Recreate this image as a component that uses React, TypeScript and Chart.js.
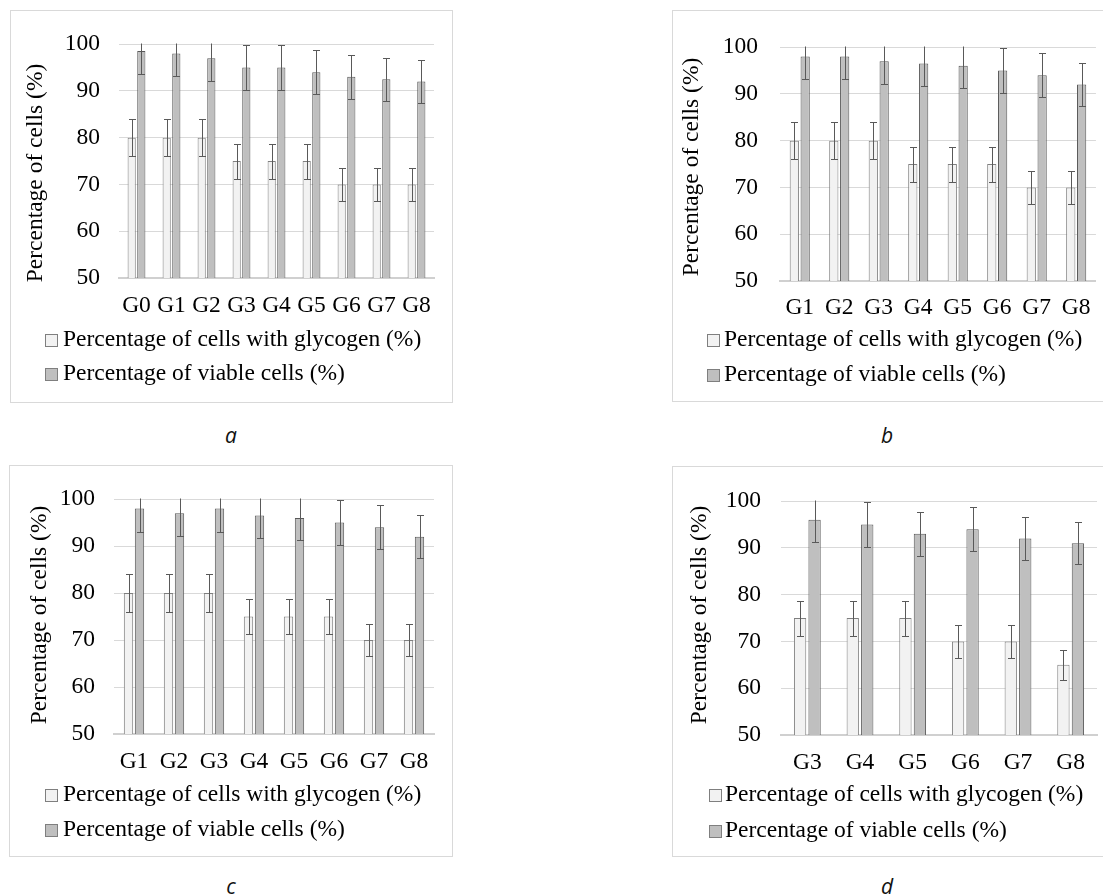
import React, { useEffect, useRef } from "react";
import { Chart, registerables } from "chart.js";

Chart.register(...registerables);

const FONT = "'Liberation Serif', 'Times New Roman', serif";
const FONT_SIZE = 23.5;

// ---------------- data ----------------
const seriesNames = ["Percentage of cells with glycogen (%)", "Percentage of viable cells (%)"];
const yTitle = "Percentage of cells (%)";
const yTicks = [50, 60, 70, 80, 90, 100];

const categoriesA = ["G0", "G1", "G2", "G3", "G4", "G5", "G6", "G7", "G8"];
const glycogenA = [80, 80, 80, 75, 75, 75, 70, 70, 70];
const glycogenErrA = [4, 4, 4, 3.75, 3.75, 3.75, 3.5, 3.5, 3.5];
const viableA = [98.5, 98, 97, 95, 95, 94, 93, 92.5, 92];
const viableErrA = [4.9, 4.9, 4.85, 4.75, 4.75, 4.7, 4.65, 4.6, 4.6];

const categoriesB = ["G1", "G2", "G3", "G4", "G5", "G6", "G7", "G8"];
const glycogenB = [80, 80, 80, 75, 75, 75, 70, 70];
const glycogenErrB = [4, 4, 4, 3.75, 3.75, 3.75, 3.5, 3.5];
const viableB = [98, 98, 97, 96.5, 96, 95, 94, 92];
const viableErrB = [4.9, 4.9, 4.85, 4.8, 4.8, 4.75, 4.7, 4.6];

const categoriesC = ["G1", "G2", "G3", "G4", "G5", "G6", "G7", "G8"];
const glycogenC = [80, 80, 80, 75, 75, 75, 70, 70];
const glycogenErrC = [4, 4, 4, 3.75, 3.75, 3.75, 3.5, 3.5];
const viableC = [98, 97, 98, 96.5, 96, 95, 94, 92];
const viableErrC = [4.9, 4.85, 4.9, 4.8, 4.8, 4.75, 4.7, 4.6];

const categoriesD = ["G3", "G4", "G5", "G6", "G7", "G8"];
const glycogenD = [75, 75, 75, 70, 70, 65];
const glycogenErrD = [3.75, 3.75, 3.75, 3.5, 3.5, 3.25];
const viableD = [96, 95, 93, 94, 92, 91];
const viableErrD = [4.8, 4.75, 4.65, 4.7, 4.6, 4.55];

// ---------------- layout ----------------
type Panel = {
  caption: string;
  labels: string[];
  glycogen: number[];
  glycogenErr: number[];
  viable: number[];
  viableErr: number[];
  box: { left: number; top: number; width: number; height: number };
  padTop: number;
  padRight: number;
  yWidth: number;
  xHeight: number;
  yTickPad: number;
  xTickPad: number;
  legendSquare: number;
  legendText: number;
  legendRows: number[];
  titleX: number;
  titleY: number;
  capX: number;
  capY: number;
};

const panels: Panel[] = [
  {
    caption: "a", labels: categoriesA, glycogen: glycogenA, glycogenErr: glycogenErrA, viable: viableA, viableErr: viableErrA,
    box: { left: 10, top: 10, width: 443, height: 393 },
    padTop: 20, padRight: 18, yWidth: 108, xHeight: 124, yTickPad: 19, xTickPad: 14,
    legendSquare: 34, legendText: 52, legendRows: [329, 363], titleX: 25, titleY: 162, capX: 231, capY: 435,
  },
  {
    caption: "b", labels: categoriesB, glycogen: glycogenB, glycogenErr: glycogenErrB, viable: viableB, viableErr: viableErrB,
    box: { left: 672, top: 10, width: 433, height: 392 },
    padTop: 20, padRight: 7, yWidth: 107, xHeight: 120, yTickPad: 22, xTickPad: 13,
    legendSquare: 34, legendText: 51, legendRows: [329, 364], titleX: 19, titleY: 156, capX: 887, capY: 435,
  },
  {
    caption: "c", labels: categoriesC, glycogen: glycogenC, glycogenErr: glycogenErrC, viable: viableC, viableErr: viableErrC,
    box: { left: 9, top: 465, width: 444, height: 392 },
    padTop: 19, padRight: 18, yWidth: 104, xHeight: 122, yTickPad: 19, xTickPad: 14,
    legendSquare: 35, legendText: 53, legendRows: [329, 364], titleX: 30, titleY: 149, capX: 231, capY: 886,
  },
  {
    caption: "d", labels: categoriesD, glycogen: glycogenD, glycogenErr: glycogenErrD, viable: viableD, viableErr: viableErrD,
    box: { left: 672, top: 466, width: 433, height: 391 },
    padTop: 19, padRight: 7, yWidth: 108, xHeight: 121, yTickPad: 20, xTickPad: 14,
    legendSquare: 36, legendText: 52, legendRows: [328, 364], titleX: 27, titleY: 148, capX: 887, capY: 886,
  },
];

function ChartPanel({ p }: { p: Panel }) {
  const ref = useRef<HTMLCanvasElement | null>(null);
  const cw = p.box.width - 2;
  const ch = p.box.height - 2;

  useEffect(() => {
    const canvas = ref.current;
    if (!canvas) return;
    const errs = [p.glycogenErr, p.viableErr];
    let chart: any = null;
    let cancelled = false;

    const errorBars = {
      id: "errorBars",
      afterDatasetsDraw(c: any) {
        const { ctx, chartArea } = c;
        const ys = c.scales.y;
        ctx.save();
        ctx.beginPath();
        ctx.rect(chartArea.left, chartArea.top - 0.5, chartArea.right - chartArea.left, chartArea.bottom - chartArea.top + 1);
        ctx.clip();
        ctx.strokeStyle = "#595959";
        ctx.lineWidth = 1;
        c.data.datasets.forEach((ds: any, i: number) => {
          const meta = c.getDatasetMeta(i);
          meta.data.forEach((el: any, j: number) => {
            const v = ds.data[j] as number;
            const e = errs[i][j];
            const x = Math.round(el.x) + 0.5;
            const yt = Math.round(ys.getPixelForValue(v + e)) + 0.5;
            const yb = Math.round(ys.getPixelForValue(v - e)) + 0.5;
            ctx.beginPath();
            ctx.moveTo(x, yt);
            ctx.lineTo(x, yb);
            ctx.moveTo(x - 3.5, yt);
            ctx.lineTo(x + 3.5, yt);
            ctx.moveTo(x - 3.5, yb);
            ctx.lineTo(x + 3.5, yb);
            ctx.stroke();
          });
        });
        ctx.restore();
      },
    };

    const deco = {
      id: "deco",
      afterDraw(c: any) {
        const ctx = c.ctx;
        ctx.save();
        ctx.font = `${FONT_SIZE}px ${FONT}`;
        ctx.textBaseline = "middle";
        c.data.datasets.forEach((ds: any, i: number) => {
          const ry = p.legendRows[i];
          const sy = Math.round(ry - 6.5) + 0.5;
          ctx.fillStyle = ds.backgroundColor;
          ctx.fillRect(p.legendSquare + 0.5, sy, 12, 12);
          ctx.strokeStyle = "#7f7f7f";
          ctx.lineWidth = 1;
          ctx.strokeRect(p.legendSquare + 0.5, sy, 12, 12);
          ctx.fillStyle = "#000";
          ctx.textAlign = "left";
          ctx.fillText(ds.label, p.legendText, ry);
        });
        ctx.translate(p.titleX, p.titleY);
        ctx.rotate(-Math.PI / 2);
        ctx.textAlign = "center";
        ctx.fillStyle = "#000";
        ctx.fillText(yTitle, 0, 0);
        ctx.restore();
      },
    };

    const tickFont = { family: FONT, size: FONT_SIZE };

    const build = () => {
      if (cancelled) return;
      chart = new Chart(canvas, {
        type: "bar",
        data: {
          labels: p.labels,
          datasets: [
            {
              label: seriesNames[0],
              data: p.glycogen,
              backgroundColor: "#f2f2f2",
              borderColor: "#7f7f7f",
              borderWidth: 1,
              categoryPercentage: 0.55,
              barPercentage: 0.85,
            },
            {
              label: seriesNames[1],
              data: p.viable,
              backgroundColor: "#bfbfbf",
              borderColor: "#595959",
              borderWidth: 1,
              categoryPercentage: 0.55,
              barPercentage: 0.85,
            },
          ],
        },
        options: {
          animation: false,
          responsive: false,
          maintainAspectRatio: false,
          devicePixelRatio: 1,
          layout: { padding: { top: p.padTop, right: p.padRight, left: 0, bottom: 0 } },
          plugins: { legend: { display: false }, tooltip: { enabled: false } },
          scales: {
            x: {
              grid: { display: false, drawTicks: false },
              border: { display: true, color: "#d0d0d0", width: 2 },
              ticks: { font: tickFont, color: "#000", padding: p.xTickPad, autoSkip: false, maxRotation: 0, minRotation: 0 },
              afterFit: (s: any) => {
                s.height = p.xHeight;
              },
            },
            y: {
              min: 50,
              max: 100,
              grid: { color: "#d9d9d9", lineWidth: 1, drawTicks: false },
              border: { display: false },
              ticks: { font: tickFont, color: "#000", padding: p.yTickPad },
              afterBuildTicks: (s: any) => {
                s.ticks = yTicks.map((v) => ({ value: v }));
              },
              afterFit: (s: any) => {
                s.width = p.yWidth;
              },
            },
          },
        } as any,
        plugins: [errorBars, deco],
      });
    };

    const fontsApi: any = (document as any).fonts;
    if (fontsApi && fontsApi.load) {
      Promise.all([
        fontsApi.load(`${FONT_SIZE}px "Liberation Serif"`),
        fontsApi.load(`italic 21px "Open Sans"`),
      ])
        .catch(() => null)
        .then(build);
    } else {
      build();
    }
    return () => {
      cancelled = true;
      if (chart) chart.destroy();
    };
  }, []);

  return (
    <div
      style={{
        position: "absolute",
        left: p.box.left,
        top: p.box.top,
        width: p.box.width,
        height: p.box.height,
        boxSizing: "border-box",
        border: "1px solid #d9d9d9",
        background: "#fff",
      }}
    >
      <canvas ref={ref} width={cw} height={ch} style={{ display: "block", width: cw, height: ch }} />
    </div>
  );
}

export default function App() {
  return (
    <div
      style={{
        position: "absolute",
        left: 0,
        top: 0,
        width: 1103,
        height: 894,
        overflow: "hidden",
        background: "#fff",
      }}
    >
      {panels.map((p) => (
        <React.Fragment key={p.caption}>
          <ChartPanel p={p} />
          <div
            style={{
              position: "absolute",
              left: p.capX,
              top: p.capY,
              transform: "translate(-50%, -50%)",
              fontFamily: "'Open Sans', 'DejaVu Sans', sans-serif",
              fontStyle: "italic",
              fontSize: 21,
              color: "#111",
              lineHeight: 1,
            }}
          >
            {p.caption}
          </div>
        </React.Fragment>
      ))}
    </div>
  );
}
